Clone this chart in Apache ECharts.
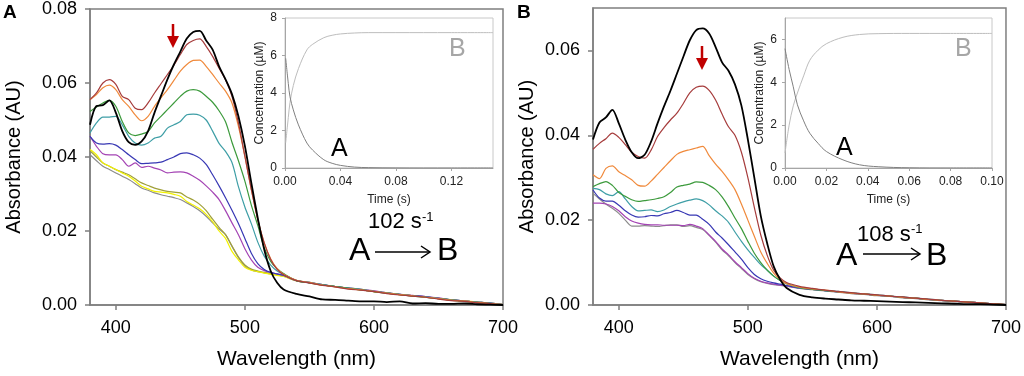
<!DOCTYPE html>
<html>
<head>
<meta charset="utf-8">
<script src="https://cdn.jsdelivr.net/npm/echarts@6/dist/echarts.min.js"></script>
<style>html,body{margin:0;padding:0;background:#fff}#c{width:1024px;height:376px}</style>
</head>
<body>
<div id="c"></div>
<script>
// ---------- DATA ----------
const wavelengths = [380,385,390,395,400,405,410,415,420,425,430,435,440,445,450,455,460,465,470,475,480,485,490,495,500,505,510,515,520,525,530,540,550,560,570,580,590,600,610,620,630,640,650,660,670,680,690,700];

// Panel A spectra (absorbance, AU)
const A_black   = [.0487,.0538,.0540,.0553,.0520,.0470,.0440,.0433,.0442,.0470,.0520,.0565,.0610,.0650,.0685,.0720,.0738,.0741,.0715,.0690,.0645,.0610,.0570,.0510,.0430,.0330,.0235,.0150,.0092,.0060,.0042,.0030,.0023,.0015,.0014,.0012,.0010,.0010,.0008,.0010,.0004,.0005,.0003,.0003,.0004,.0002,.0001,.0000];
const A_darkred = [.0555,.0573,.0600,.0609,.0596,.0564,.0555,.0532,.0528,.0546,.0573,.0598,.0623,.0648,.0677,.0704,.0715,.0719,.0699,.0672,.0640,.0609,.0564,.0492,.0402,.0312,.0231,.0168,.0123,.0096,.0082,.0066,.0060,.0053,.0049,.0043,.0040,.0036,.0031,.0027,.0024,.0021,.0016,.0012,.0010,.0006,.0004,.0001];
const A_orange  = [.0555,.0569,.0587,.0594,.0582,.0555,.0537,.0514,.0498,.0510,.0537,.0560,.0582,.0607,.0632,.0650,.0661,.0662,.0645,.0623,.0600,.0578,.0546,.0483,.0402,.0312,.0231,.0168,.0125,.0098,.0083,.0067,.0061,.0054,.0049,.0044,.0041,.0037,.0032,.0028,.0025,.0021,.0017,.0013,.0011,.0007,.0004,.0001];
const A_green   = [.0523,.0535,.0546,.0553,.0537,.0496,.0465,.0458,.0462,.0469,.0492,.0510,.0528,.0546,.0564,.0578,.0582,.0578,.0564,.0548,.0525,.0495,.0440,.0390,.0335,.0270,.0215,.0155,.0118,.0098,.0085,.0066,.0060,.0054,.0050,.0045,.0041,.0036,.0032,.0028,.0024,.0021,.0017,.0013,.0010,.0007,.0004,.0001];
const A_teal    = [.0465,.0492,.0508,.0508,.0510,.0487,.0456,.0438,.0432,.0438,.0451,.0456,.0478,.0487,.0496,.0514,.0516,.0513,.0500,.0470,.0437,.0415,.0385,.0320,.0265,.0220,.0170,.0132,.0108,.0092,.0083,.0067,.0061,.0055,.0050,.0046,.0042,.0037,.0033,.0029,.0025,.0022,.0018,.0014,.0011,.0008,.0005,.0001];
const A_blue    = [.0456,.0438,.0435,.0436,.0432,.0420,.0406,.0393,.0382,.0383,.0384,.0386,.0393,.0400,.0409,.0411,.0406,.0397,.0380,.0352,.0322,.0290,.0256,.0220,.0180,.0140,.0112,.0096,.0088,.0084,.0080,.0066,.0060,.0055,.0050,.0046,.0041,.0037,.0032,.0029,.0025,.0023,.0018,.0014,.0011,.0008,.0005,.0001];
const A_magenta = [.0456,.0429,.0409,.0406,.0406,.0393,.0375,.0384,.0372,.0375,.0370,.0365,.0357,.0359,.0360,.0357,.0348,.0337,.0322,.0305,.0285,.0255,.0222,.0190,.0152,.0122,.0102,.0093,.0088,.0084,.0080,.0066,.0061,.0055,.0050,.0046,.0042,.0038,.0033,.0029,.0026,.0023,.0019,.0014,.0011,.0008,.0005,.0001];
const A_yellow  = [.0420,.0406,.0384,.0375,.0366,.0357,.0348,.0335,.0321,.0314,.0307,.0305,.0303,.0299,.0294,.0280,.0270,.0260,.0245,.0225,.0200,.0180,.0145,.0122,.0102,.0094,.0090,.0086,.0083,.0080,.0077,.0065,.0060,.0054,.0050,.0045,.0041,.0036,.0032,.0028,.0025,.0022,.0018,.0013,.0011,.0008,.0005,.0001];
const A_olive   = [.0417,.0400,.0384,.0375,.0366,.0359,.0352,.0341,.0330,.0323,.0316,.0311,.0307,.0305,.0303,.0292,.0284,.0272,.0255,.0232,.0210,.0190,.0160,.0130,.0108,.0097,.0092,.0088,.0085,.0082,.0079,.0066,.0061,.0055,.0050,.0046,.0042,.0037,.0033,.0029,.0025,.0022,.0018,.0014,.0011,.0008,.0005,.0001];
const A_gray    = [.0406,.0390,.0375,.0366,.0357,.0348,.0339,.0328,.0316,.0310,.0303,.0298,.0294,.0290,.0285,.0276,.0266,.0255,.0240,.0222,.0205,.0190,.0158,.0128,.0105,.0095,.0090,.0087,.0084,.0081,.0078,.0065,.0060,.0054,.0049,.0045,.0041,.0036,.0032,.0028,.0024,.0021,.0017,.0013,.0010,.0007,.0004,.0001];

// Panel B spectra (absorbance, AU)
const B_black   = [.0390,.0430,.0442,.0460,.0428,.0390,.0360,.0346,.0354,.0385,.0428,.0468,.0505,.0545,.0585,.0624,.0648,.0652,.0640,.0608,.0572,.0552,.0520,.0470,.0390,.0300,.0210,.0145,.0091,.0060,.0040,.0024,.0018,.0015,.0013,.0011,.0010,.0009,.0008,.0007,.0006,.0005,.0004,.0003,.0002,.0002,.0001,.0000];
const B_darkred = [.0367,.0381,.0392,.0405,.0395,.0378,.0360,.0350,.0346,.0365,.0397,.0418,.0436,.0452,.0475,.0500,.0513,.0516,.0506,.0483,.0450,.0420,.0400,.0360,.0300,.0230,.0165,.0117,.0082,.0064,.0053,.0044,.0039,.0035,.0032,.0029,.0026,.0024,.0021,.0019,.0016,.0014,.0011,.0009,.0007,.0005,.0003,.0001];
const B_orange  = [.0307,.0298,.0322,.0328,.0314,.0305,.0295,.0282,.0280,.0292,.0308,.0324,.0340,.0355,.0362,.0366,.0370,.0374,.0352,.0332,.0315,.0295,.0272,.0238,.0200,.0162,.0125,.0098,.0075,.0060,.0050,.0042,.0038,.0035,.0031,.0028,.0026,.0023,.0021,.0018,.0016,.0013,.0011,.0009,.0007,.0005,.0003,.0001];
const B_green   = [.0279,.0286,.0291,.0282,.0265,.0256,.0248,.0244,.0246,.0248,.0251,.0255,.0265,.0278,.0282,.0285,.0290,.0289,.0282,.0272,.0255,.0232,.0205,.0180,.0150,.0122,.0100,.0082,.0068,.0058,.0050,.0041,.0037,.0034,.0031,.0028,.0026,.0023,.0021,.0018,.0016,.0013,.0011,.0009,.0007,.0005,.0003,.0001];
const B_teal    = [.0275,.0272,.0262,.0258,.0267,.0250,.0232,.0222,.0223,.0224,.0220,.0224,.0232,.0238,.0243,.0247,.0250,.0246,.0236,.0222,.0210,.0195,.0172,.0150,.0130,.0112,.0095,.0082,.0068,.0058,.0050,.0041,.0038,.0034,.0032,.0029,.0026,.0024,.0021,.0019,.0016,.0014,.0011,.0009,.0007,.0005,.0003,.0001];
const B_blue    = [.0271,.0252,.0245,.0245,.0235,.0222,.0212,.0207,.0208,.0211,.0210,.0215,.0218,.0223,.0218,.0212,.0212,.0202,.0190,.0172,.0158,.0142,.0125,.0108,.0088,.0072,.0062,.0056,.0052,.0049,.0046,.0040,.0037,.0034,.0031,.0028,.0026,.0023,.0021,.0018,.0016,.0013,.0011,.0009,.0007,.0005,.0003,.0001];
const B_magenta = [.0240,.0240,.0238,.0232,.0222,.0208,.0198,.0193,.0190,.0189,.0189,.0188,.0188,.0188,.0187,.0190,.0186,.0180,.0165,.0150,.0132,.0118,.0102,.0088,.0074,.0063,.0056,.0052,.0049,.0047,.0045,.0040,.0037,.0034,.0031,.0028,.0026,.0023,.0021,.0018,.0016,.0013,.0011,.0009,.0007,.0005,.0003,.0001];
const B_gray    = [.0263,.0250,.0238,.0228,.0216,.0200,.0186,.0186,.0187,.0186,.0185,.0187,.0189,.0189,.0185,.0187,.0183,.0178,.0164,.0148,.0130,.0116,.0100,.0086,.0072,.0062,.0055,.0051,.0048,.0046,.0044,.0039,.0036,.0033,.0030,.0027,.0025,.0022,.0020,.0017,.0015,.0012,.0010,.0008,.0006,.0004,.0002,.0001];

// Inset A kinetics (time s, concentration uM)
const insetA_time = [0.0005,0.0024,0.0036,0.006,0.0097,0.0158,0.02,0.028,0.034,0.04,0.05,0.06,0.08,0.10,0.12,0.15];
const insetA_A    = [5.85,4.5,3.8,3.1,2.3,1.33,0.95,0.44,0.25,0.14,0.05,0.02,0.005,0,0,0];
const insetA_B    = [1.35,2.7,3.5,4.4,5.3,6.3,6.6,6.95,7.08,7.15,7.2,7.22,7.22,7.22,7.22,7.22];
// Inset B kinetics
const insetB_time = [0,0.002,0.004,0.006,0.009,0.012,0.016,0.02,0.028,0.036,0.045,0.06,0.08,0.10];
const insetB_A    = [5.57,4.6,3.79,2.95,2.2,1.62,1.15,0.77,0.38,0.15,0.06,0.01,0,0];
const insetB_B    = [0.7,2.0,2.9,3.5,4.3,5.03,5.5,5.8,6.1,6.23,6.27,6.28,6.28,6.28];

// Tick labels
const mainXTicks = [400,500,600,700];
const mainAYTicks = [0,0.02,0.04,0.06,0.08];
const mainBYTicks = [0,0.02,0.04,0.06];
const insetAXTicks = [0,0.04,0.08,0.12];
const insetAYTicks = [0,2,4,6,8];
const insetBXTicks = [0,0.02,0.04,0.06,0.08,0.10];
const insetBYTicks = [0,2,4,6];

// ---------- CHART ----------
const FONT = 'Liberation Sans, Arial, sans-serif';
const chart = echarts.init(document.getElementById('c'), null, {renderer:'canvas'});

function spec(gi, ys, color, width){
  return {type:'line', xAxisIndex:gi, yAxisIndex:gi, data: wavelengths.map((x,i)=>[x,ys[i]]),
    showSymbol:false, symbol:'none', smooth:0.3, silent:true, animation:false,
    lineStyle:{color:color, width:width||1.2}};
}
function kin(gi, xs, ys, color){
  return {type:'line', xAxisIndex:gi, yAxisIndex:gi, data: xs.map((x,i)=>[x,ys[i]]),
    showSymbol:false, symbol:'none', smooth:0.35, silent:true, animation:false,
    lineStyle:{color:color, width:1}};
}
function mainX(gi){
  return {gridIndex:gi, type:'value', min:380, max:700,
    axisLine:{show:true, lineStyle:{color:'#7f7f7f', width:1.5}},
    axisTick:{show:true, inside:false, length:5, customValues:mainXTicks, lineStyle:{color:'#7f7f7f', width:1.5}},
    axisLabel:{customValues:mainXTicks, fontSize:18, color:'#000', fontFamily:FONT, margin:14},
    splitLine:{show:false},
    name:'Wavelength (nm)', nameLocation:'middle', nameGap:44,
    nameTextStyle:{fontSize:21, color:'#000', fontFamily:FONT}};
}
function mainY(gi, max, ticks, gap){
  return {gridIndex:gi, type:'value', min:0, max:max,
    axisLine:{show:true, lineStyle:{color:'#7f7f7f', width:1.5}},
    axisTick:{show:true, inside:false, length:5, customValues:ticks, lineStyle:{color:'#7f7f7f', width:1.5}},
    axisLabel:{customValues:ticks, fontSize:18, color:'#000', fontFamily:FONT, margin:13, formatter:v=>v.toFixed(2)},
    splitLine:{show:false},
    name:'Absorbance (AU)', nameLocation:'middle', nameGap:gap,
    nameTextStyle:{fontSize:20, color:'#000', fontFamily:FONT}};
}
function insetX(gi, max, ticks){
  return {gridIndex:gi, type:'value', min:0, max:max,
    axisLine:{show:true, lineStyle:{color:'#a6a6a6', width:1}},
    axisTick:{show:true, inside:false, length:3, customValues:ticks, lineStyle:{color:'#a6a6a6'}},
    axisLabel:{customValues:ticks, fontSize:12, color:'#222', fontFamily:FONT, margin:8, formatter:v=>v.toFixed(2)},
    splitLine:{show:false},
    name:'Time (s)', nameLocation:'middle', nameGap:26,
    nameTextStyle:{fontSize:12, color:'#222', fontFamily:FONT}};
}
function insetY(gi, max, ticks){
  return {gridIndex:gi, type:'value', min:0, max:max,
    axisLine:{show:true, lineStyle:{color:'#a6a6a6', width:1}},
    axisTick:{show:true, inside:false, length:3, customValues:ticks, lineStyle:{color:'#a6a6a6'}},
    axisLabel:{customValues:ticks, fontSize:12, color:'#222', fontFamily:FONT, margin:8},
    splitLine:{show:false},
    name:'Concentration (\u00b5M)', nameLocation:'middle', nameGap:19,
    nameTextStyle:{fontSize:12, color:'#222', fontFamily:FONT}};
}

function txt(x, y, s, size, color, opts){
  return Object.assign({type:'text', x:x, y:y, silent:true, z:100,
    style:{text:s, fontSize:size, fill:color, fontFamily:FONT, textAlign:'left', textVerticalAlign:'middle'}}, opts||{});
}
function redArrow(x, y0, y1){
  return [
    {type:'line', silent:true, z:100, shape:{x1:x, y1:y0, x2:x, y2:y1-8}, style:{stroke:'#c00000', lineWidth:2.5}},
    {type:'polygon', silent:true, z:100, shape:{points:[[x-6,y1-12],[x+6,y1-12],[x,y1]]}, style:{fill:'#c00000'}}
  ];
}
function rateArrow(x0, x1, y){
  return [
    {type:'line', silent:true, z:100, shape:{x1:x0, y1:y, x2:x1, y2:y}, style:{stroke:'#000', lineWidth:1.5}},
    {type:'polyline', silent:true, z:100, shape:{points:[[x1-9,y-6],[x1,y],[x1-9,y+6]]}, style:{stroke:'#000', lineWidth:1.5, fill:null}}
  ];
}

const option = {
  animation:false,
  backgroundColor:'#fff',
  grid:[
    {left:90, top:9, width:413, height:296, show:true, borderColor:'#7f7f7f', borderWidth:1.5, backgroundColor:'transparent'},
    {left:593, top:8, width:413, height:297, show:true, borderColor:'#7f7f7f', borderWidth:1.5, backgroundColor:'transparent'},
    {left:285, top:18, width:208, height:150, show:true, borderColor:'#c8c8c8', borderWidth:1, backgroundColor:'#fff'},
    {left:785, top:18, width:207, height:150, show:true, borderColor:'#c8c8c8', borderWidth:1, backgroundColor:'#fff'}
  ],
  xAxis:[ mainX(0), mainX(1), insetX(2, 0.15, insetAXTicks), insetX(3, 0.10, insetBXTicks) ],
  yAxis:[ mainY(0, 0.08, mainAYTicks, 66), mainY(1, 0.07, mainBYTicks, 56), insetY(2, 8, insetAYTicks), insetY(3, 7, insetBYTicks) ],
  series:[
    spec(0, A_gray, '#8c8c8c'),
    spec(0, A_olive, '#a0a03a'),
    spec(0, A_yellow, '#f2f200'),
    spec(0, A_magenta, '#a444b4'),
    spec(0, A_blue, '#3838b4'),
    spec(0, A_teal, '#3e9ea6'),
    spec(0, A_green, '#3c9a3c'),
    spec(0, A_orange, '#f08a3c'),
    spec(0, A_darkred, '#a63c3c'),
    spec(0, A_black, '#000000', 1.8),
    spec(1, B_gray, '#8c8c8c'),
    spec(1, B_magenta, '#a444b4'),
    spec(1, B_blue, '#3838b4'),
    spec(1, B_teal, '#3e9ea6'),
    spec(1, B_green, '#3c9a3c'),
    spec(1, B_orange, '#f08a3c'),
    spec(1, B_darkred, '#a63c3c'),
    spec(1, B_black, '#000000', 1.8),
    kin(2, insetA_time, insetA_B, '#bdbdbd'),
    kin(2, insetA_time, insetA_A, '#808080'),
    kin(3, insetB_time, insetB_B, '#bdbdbd'),
    kin(3, insetB_time, insetB_A, '#808080')
  ],
  graphic:[
    txt(3, 13, 'A', 19, '#000', {style:{text:'A', fontSize:19, fontWeight:'bold', fill:'#000', fontFamily:FONT, textAlign:'left', textVerticalAlign:'middle'}}),
    txt(517, 13, 'B', 19, '#000', {style:{text:'B', fontSize:19, fontWeight:'bold', fill:'#000', fontFamily:FONT, textAlign:'left', textVerticalAlign:'middle'}}),
    ...redArrow(173, 24, 48),
    ...redArrow(702, 46, 70),
    // inset letters
    txt(331, 149, 'A', 25, '#000'),
    txt(449, 49, 'B', 25, '#a6a6a6'),
    txt(836, 148, 'A', 25, '#000'),
    txt(955, 49, 'B', 25, '#a6a6a6'),
    // rate annotation panel A
    txt(349, 251, 'A', 32, '#000'),
    txt(368, 222, '102 s', 22, '#000'),
    txt(422, 217, '-1', 13, '#000'),
    ...rateArrow(375, 430, 252),
    txt(437, 251, 'B', 32, '#000'),
    // rate annotation panel B
    txt(836, 256, 'A', 32, '#000'),
    txt(857, 235, '108 s', 22, '#000'),
    txt(911, 229, '-1', 13, '#000'),
    ...rateArrow(863, 920, 254),
    txt(926, 256, 'B', 32, '#000')
  ]
};
chart.setOption(option);
</script>
</body>
</html>
